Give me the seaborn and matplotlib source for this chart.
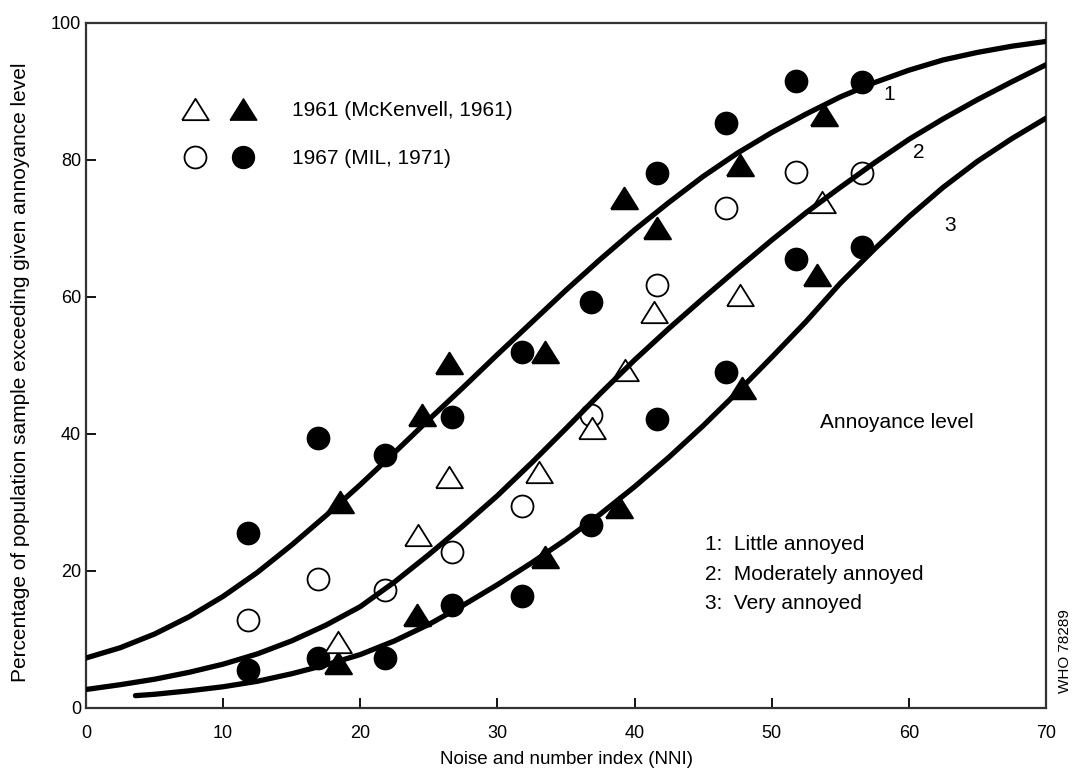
import matplotlib
matplotlib.use("Agg")
import matplotlib.pyplot as plt
import seaborn as sns
from matplotlib.path import Path
from matplotlib.lines import Line2D
from matplotlib.legend_handler import HandlerTuple

# fitted curves (NNI -> % annoyed), every 2.5 NNI
curve_nni = [0, 2.5, 5, 7.5, 10, 12.5, 15, 17.5, 20, 22.5, 25, 27.5, 30, 32.5, 35,
             37.5, 40, 42.5, 45, 47.5, 50, 52.5, 55, 57.5, 60, 62.5, 65, 67.5, 70]
little_curve = [7.3, 8.8, 10.8, 13.3, 16.3, 19.8, 23.8, 28.1, 32.6, 37.3, 42.1, 46.8, 51.6, 56.3, 61.0,
                65.5, 69.8, 73.8, 77.6, 81.0, 84.0, 86.7, 89.2, 91.3, 93.1, 94.6, 95.7, 96.6, 97.3]
moderate_curve = [2.7, 3.4, 4.2, 5.2, 6.4, 7.9, 9.8, 12.1, 14.8, 18.4, 22.4, 26.6, 31.0, 35.8, 40.8,
                  45.9, 50.8, 55.4, 59.8, 64.1, 68.3, 72.3, 76.0, 79.6, 83.0, 86.0, 88.8, 91.4, 93.9]
very_nni = [3.6, 5, 7.5, 10, 12.5, 15, 17.5, 20, 22.5, 25, 27.5, 30, 32.5, 35,
            37.5, 40, 42.5, 45, 47.5, 50, 52.5, 55, 57.5, 60, 62.5, 65, 67.5, 70]
very_curve = [1.8, 2.0, 2.5, 3.1, 3.9, 5.0, 6.3, 7.8, 9.8, 12.2, 15.0, 18.0, 21.2, 24.6,
              28.3, 32.3, 36.6, 41.2, 46.1, 51.2, 56.4, 62.0, 67.0, 71.7, 76.0, 79.8, 83.1, 86.1]

# 1967 survey (MIL, 1971)
mil_nni = [11.8, 16.9, 21.8, 26.7, 31.8, 36.8, 41.6, 46.7, 51.8, 56.6]
mil_little = [25.5, 39.4, 36.9, 42.5, 52.0, 59.3, 78.1, 85.4, 91.5, 91.4]
mil_moderate = [12.8, 18.8, 17.2, 22.8, 29.5, 42.8, 61.8, 73.0, 78.2, 78.1]
mil_very = [5.5, 7.3, 7.3, 15.0, 16.4, 26.7, 42.2, 49.0, 65.5, 67.3]

# 1961 survey (McKennell, 1961)
mck_little_nni = [18.5, 24.5, 26.5, 33.5, 39.2, 41.6, 47.7, 53.8]
mck_little = [30.0, 42.8, 50.4, 52.0, 74.5, 70.1, 79.3, 86.6]
mck_moderate_nni = [18.4, 24.2, 26.5, 33.0, 36.9, 39.3, 41.4, 47.7, 53.7]
mck_moderate = [9.6, 25.3, 33.7, 34.5, 40.9, 49.3, 57.8, 60.3, 73.9]
mck_very_nni = [18.4, 24.1, 33.5, 38.9, 47.8, 53.3]
mck_very = [6.6, 13.6, 22.0, 29.3, 46.7, 63.2]

curve_ids = ["1", "2", "3"]
level_labels = ["Little annoyed", "Moderately annoyed", "Very annoyed"]
legend_labels = ["1961 (McKenvell, 1961)", "1967 (MIL, 1971)"]

sns.set_style("ticks")
plt.rcParams["font.family"] = ["Liberation Sans", "DejaVu Sans"]
plt.rcParams["text.color"] = "black"
plt.rcParams["axes.labelcolor"] = "black"

fig = plt.figure(figsize=(10.77, 7.78), dpi=100)
ax = fig.add_axes([0.0799, 0.09, 0.8913, 0.8805])

tri = Path([(-1, -0.8), (1, -0.8), (0, 0.8), (-1, -0.8)])
circ_s = 250
tri_s = 370
lw_open = 1.3

# curves
for xs, ys in [(curve_nni, little_curve), (curve_nni, moderate_curve), (very_nni, very_curve)]:
    sns.lineplot(x=xs, y=ys, color="black", linewidth=3.8, ax=ax, zorder=3, sort=False)

# 1967 points
sns.scatterplot(x=mil_nni, y=mil_little, marker="o", s=circ_s, color="black",
                edgecolor="black", ax=ax, zorder=2)
sns.scatterplot(x=mil_nni, y=mil_very, marker="o", s=circ_s, color="black",
                edgecolor="black", ax=ax, zorder=2)
sns.scatterplot(x=mil_nni, y=mil_moderate, marker="o", s=circ_s, color="white",
                edgecolor="black", linewidth=lw_open, ax=ax, zorder=2)

# 1961 points
sns.scatterplot(x=mck_little_nni, y=mck_little, marker=tri, s=tri_s, color="black",
                edgecolor="black", ax=ax, zorder=2)
sns.scatterplot(x=mck_very_nni, y=mck_very, marker=tri, s=tri_s, color="black",
                edgecolor="black", ax=ax, zorder=2)
sns.scatterplot(x=mck_moderate_nni, y=mck_moderate, marker=tri, s=tri_s, color="white",
                edgecolor="black", linewidth=lw_open, ax=ax, zorder=2)

ax.set_xlim(0, 70)
ax.set_ylim(0, 100)
ax.set_xticks(range(0, 71, 10))
ax.set_yticks(range(0, 101, 20))
ax.tick_params(direction="in", length=7, width=1.3, labelsize=13, colors="black")
ax.tick_params(axis="x", pad=12)
for sp in ax.spines.values():
    sp.set_visible(True)
    sp.set_linewidth(1.6)
    sp.set_color("#333333")
ax.set_xlabel("Noise and number index (NNI)", fontsize=13.5, labelpad=7)
ax.set_ylabel("Percentage of population sample exceeding given annoyance level", fontsize=15)
ax.yaxis.set_label_coords(-0.058, 0.49)

# curve numbers
for cid, (cx, cy) in zip(curve_ids, [(58.6, 89.5), (60.7, 81.1), (63.0, 70.5)]):
    ax.text(cx, cy, cid, fontsize=15, ha="center", va="center")

ax.text(53.5, 41.7, "Annoyance level", fontsize=15, va="center")
ax.text(45.1, 25.2, "\n".join(f"{i}:  {t}" for i, t in zip(curve_ids, level_labels)),
        fontsize=15, va="top", linespacing=1.7)

# legend: open + filled marker pairs
h_tri = (Line2D([], [], ls="none", marker=tri, markersize=19.2, mfc="white", mec="black", mew=lw_open),
         Line2D([], [], ls="none", marker=tri, markersize=19.2, mfc="black", mec="black"))
h_circ = (Line2D([], [], ls="none", marker="o", markersize=15.8, mfc="white", mec="black", mew=lw_open),
          Line2D([], [], ls="none", marker="o", markersize=15.8, mfc="black", mec="black"))
ax.legend([h_tri, h_circ], legend_labels, handler_map={tuple: HandlerTuple(ndivide=None, pad=0.4)},
          loc="upper left", bbox_to_anchor=(0.0927, 0.886), frameon=False, fontsize=15,
          handlelength=4.22, handletextpad=1.4, labelspacing=1.4, borderpad=0, borderaxespad=0)

fig.text(1065 / 1077, 1 - 651 / 778, "WHO 78289", rotation=90, fontsize=11, ha="center", va="center")

fig.savefig("out.png", dpi=100)
